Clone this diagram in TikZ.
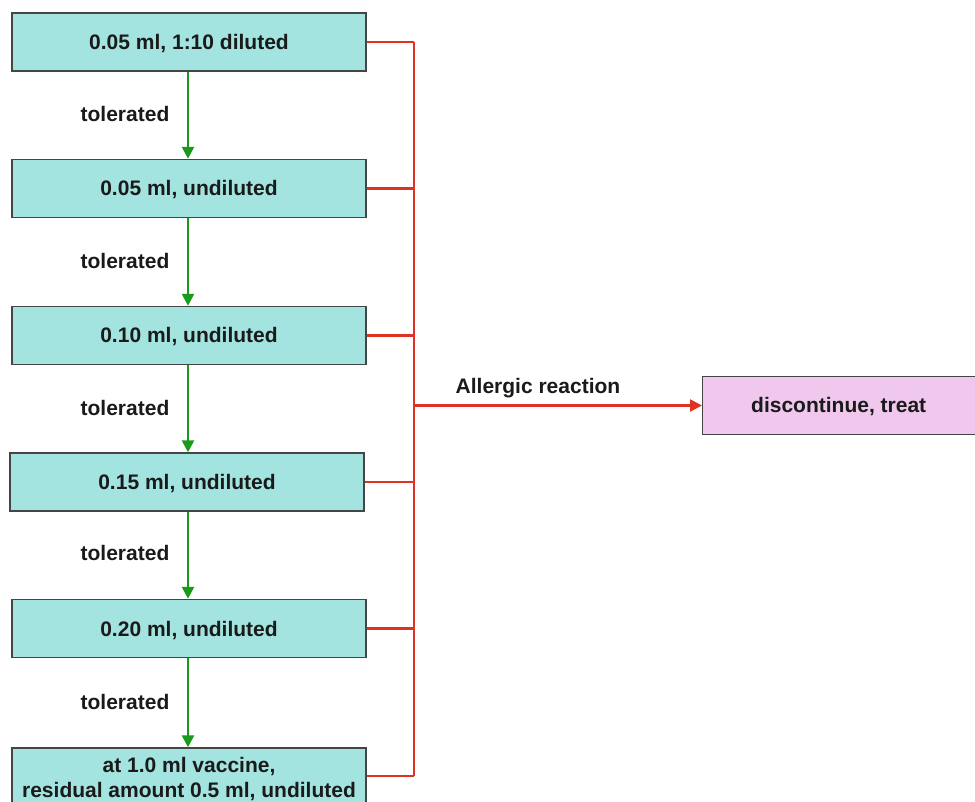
\documentclass[tikz,border=0pt]{standalone}
\usepackage{fontspec}
\setmainfont{Liberation Sans}
\usetikzlibrary{arrows.meta}
\definecolor{boxcyan}{HTML}{A3E4E0}
\definecolor{boxpink}{HTML}{F0C8EE}
\definecolor{redline}{HTML}{E03222}
\definecolor{greenline}{HTML}{1A9A1A}
\definecolor{edgegray}{HTML}{454545}
\definecolor{txt}{HTML}{1A1A1A}
\tikzset{
  stepbox/.style={draw=edgegray, line width=1.4pt, fill=boxcyan, minimum width=354pt, minimum height=58pt, inner sep=0pt, text height=15pt, text depth=0pt, align=center, text=txt, font=\fontsize{21}{25}\selectfont\bfseries},
  endbox/.style={draw=edgegray, line width=1.4pt, fill=boxpink, minimum width=290pt, minimum height=58pt, inner sep=0pt, text height=15pt, text depth=0pt, text=txt, font=\fontsize{21}{25}\selectfont\bfseries},
  lbl/.style={font=\fontsize{21}{25}\selectfont\bfseries, text=txt, inner sep=0pt},
  okarrow/.style={draw=greenline, line width=2.5pt, -{Triangle[width=12pt,length=12pt]}},
  redbus/.style={draw=redline, line width=2.5pt},
  redarrow/.style={draw=redline, line width=2.5pt, -{Triangle[width=12pt,length=12pt]}}
}
\begin{document}
\begin{tikzpicture}[x=1pt,y=-1pt]
\useasboundingbox (0,0) rectangle (975,802);
\clip (0,0) rectangle (975,802);
\node[stepbox] (b1) at (189,42) {0.05 ml, 1:10 diluted};
\node[stepbox] (b2) at (189,188.5) {0.05 ml, undiluted};
\node[stepbox] (b3) at (189,335.5) {0.10 ml, undiluted};
\node[stepbox] (b4) at (187,482) {0.15 ml, undiluted};
\node[stepbox] (b5) at (189,628.5) {0.20 ml, undiluted};
\node[stepbox, minimum height=70pt] (b6) at (189,783) {};
\node[lbl, align=center] (b6t) at (189,779) {at 1.0 ml vaccine,\\residual amount 0.5 ml, undiluted};
\node[endbox, anchor=west] (end) at (702,405.5) {\hspace*{-18pt}discontinue, treat};

\node[lbl] (t1) at (125,114) {tolerated};
\node[lbl] (t2) at (125,261) {tolerated};
\node[lbl] (t3) at (125,408) {tolerated};
\node[lbl] (t4) at (125,553) {tolerated};
\node[lbl] (t5) at (125,702) {tolerated};
\node[lbl] (ar) at (538,388) {Allergic reaction};

\draw[okarrow] (b1.south -| 188,0) -- (b2.north -| 188,0);
\draw[okarrow] (b2.south -| 188,0) -- (b3.north -| 188,0);
\draw[okarrow] (b3.south -| 188,0) -- (b4.north -| 188,0);
\draw[okarrow] (b4.south -| 188,0) -- (b5.north -| 188,0);
\draw[okarrow] (b5.south -| 188,0) -- (b6.north -| 188,0);

\coordinate (bustop) at (414,42);
\coordinate (busbot) at (414,776);
\coordinate (busmid) at (414,405.5);
\draw[redbus] (bustop) -- (busbot);
\draw[redbus] (b1.east) -- (b1.east -| bustop);
\draw[redbus] (b2.east) -- (b2.east -| bustop);
\draw[redbus] (b3.east) -- (b3.east -| bustop);
\draw[redbus] (b4.east) -- (b4.east -| bustop);
\draw[redbus] (b5.east) -- (b5.east -| bustop);
\draw[redbus] (b6.east |- busbot) -- (busbot);
\draw[redarrow] (busmid) -- (end.west);
\end{tikzpicture}
\end{document}
